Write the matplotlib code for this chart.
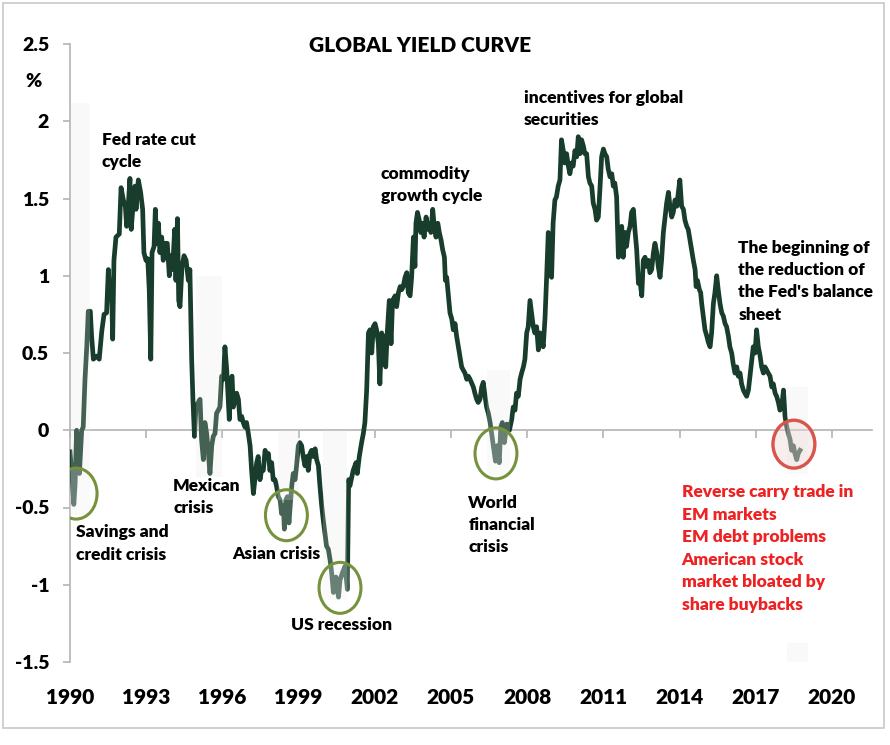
import matplotlib
matplotlib.use("Agg")
import matplotlib.pyplot as plt
from matplotlib.patches import Ellipse, Rectangle

# datos (anio, spread en %)
anios = [
    1990.00, 1990.08, 1990.15, 1990.20, 1990.26, 1990.33, 1990.37, 1990.46, 1990.52, 1990.59,
    1990.66, 1990.72, 1990.80, 1990.85, 1990.92, 1991.05, 1991.15, 1991.25, 1991.34, 1991.44,
    1991.51, 1991.57, 1991.64, 1991.68, 1991.73, 1991.81, 1991.94, 1992.01, 1992.10, 1992.18,
    1992.23, 1992.30, 1992.36, 1992.41, 1992.49, 1992.56, 1992.60, 1992.69, 1992.78, 1992.86,
    1992.91, 1992.99, 1993.06, 1993.12, 1993.18, 1993.23, 1993.31, 1993.36, 1993.41, 1993.48,
    1993.54, 1993.61, 1993.67, 1993.75, 1993.83, 1993.91, 1993.98, 1994.04, 1994.12, 1994.17,
    1994.23, 1994.28, 1994.33, 1994.41, 1994.49, 1994.57, 1994.66, 1994.72, 1994.79, 1994.84,
    1994.90, 1994.96, 1995.05, 1995.12, 1995.18, 1995.25, 1995.31, 1995.38, 1995.44, 1995.51,
    1995.58, 1995.64, 1995.71, 1995.77, 1995.84, 1995.90, 1995.97, 1996.04, 1996.10, 1996.17,
    1996.27, 1996.33, 1996.38, 1996.43, 1996.50, 1996.56, 1996.63, 1996.69, 1996.76, 1996.82,
    1996.89, 1996.95, 1997.02, 1997.09, 1997.15, 1997.22, 1997.28, 1997.35, 1997.41, 1997.48,
    1997.54, 1997.61, 1997.68, 1997.74, 1997.81, 1997.87, 1997.94, 1998.00, 1998.07, 1998.13,
    1998.20, 1998.27, 1998.33, 1998.40, 1998.44, 1998.50, 1998.56, 1998.62, 1998.69, 1998.73,
    1998.79, 1998.86, 1998.92, 1998.99, 1999.05, 1999.12, 1999.18, 1999.25, 1999.32, 1999.38,
    1999.45, 1999.51, 1999.58, 1999.65, 1999.71, 1999.78, 1999.84, 1999.91, 1999.97, 2000.04,
    2000.10, 2000.17, 2000.24, 2000.30, 2000.37, 2000.47, 2000.57, 2000.63, 2000.73, 2000.83,
    2000.92, 2000.97, 2001.02, 2001.15, 2001.26, 2001.31, 2001.39, 2001.48, 2001.55, 2001.61,
    2001.68, 2001.75, 2001.81, 2001.88, 2001.94, 2002.01, 2002.07, 2002.14, 2002.20, 2002.27,
    2002.33, 2002.38, 2002.43, 2002.49, 2002.57, 2002.64, 2002.70, 2002.80, 2002.86, 2002.93,
    2003.00, 2003.06, 2003.12, 2003.19, 2003.26, 2003.32, 2003.39, 2003.45, 2003.52, 2003.58,
    2003.62, 2003.68, 2003.75, 2003.81, 2003.89, 2003.94, 2004.02, 2004.08, 2004.15, 2004.21,
    2004.28, 2004.34, 2004.41, 2004.48, 2004.54, 2004.61, 2004.67, 2004.74, 2004.78, 2004.83,
    2004.90, 2004.96, 2005.03, 2005.09, 2005.16, 2005.22, 2005.29, 2005.35, 2005.42, 2005.48,
    2005.55, 2005.62, 2005.68, 2005.75, 2005.88, 2005.94, 2006.01, 2006.07, 2006.14, 2006.21,
    2006.27, 2006.34, 2006.40, 2006.47, 2006.54, 2006.60, 2006.67, 2006.75, 2006.82, 2006.90,
    2006.96, 2007.02, 2007.10, 2007.20, 2007.30, 2007.39, 2007.45, 2007.52, 2007.58, 2007.65,
    2007.72, 2007.78, 2007.85, 2007.91, 2007.98, 2008.04, 2008.11, 2008.17, 2008.24, 2008.30,
    2008.37, 2008.44, 2008.50, 2008.56, 2008.63, 2008.70, 2008.76, 2008.83, 2008.89, 2008.96,
    2009.02, 2009.09, 2009.15, 2009.22, 2009.29, 2009.35, 2009.42, 2009.48, 2009.55, 2009.62,
    2009.68, 2009.75, 2009.81, 2009.88, 2009.95, 2010.01, 2010.08, 2010.14, 2010.21, 2010.27,
    2010.34, 2010.41, 2010.47, 2010.54, 2010.60, 2010.67, 2010.73, 2010.80, 2010.87, 2010.93,
    2011.00, 2011.06, 2011.13, 2011.19, 2011.26, 2011.33, 2011.39, 2011.45, 2011.52, 2011.59,
    2011.65, 2011.72, 2011.78, 2011.85, 2011.91, 2011.98, 2012.05, 2012.11, 2012.18, 2012.24,
    2012.31, 2012.38, 2012.44, 2012.51, 2012.57, 2012.64, 2012.70, 2012.77, 2012.83, 2012.90,
    2012.97, 2013.03, 2013.10, 2013.16, 2013.23, 2013.29, 2013.36, 2013.43, 2013.49, 2013.56,
    2013.62, 2013.69, 2013.75, 2013.82, 2013.89, 2013.95, 2014.01, 2014.08, 2014.15, 2014.21,
    2014.28, 2014.34, 2014.41, 2014.47, 2014.54, 2014.61, 2014.65, 2014.70, 2014.78, 2014.83,
    2014.87, 2014.93, 2015.00, 2015.07, 2015.13, 2015.20, 2015.26, 2015.33, 2015.39, 2015.46,
    2015.52, 2015.59, 2015.66, 2015.72, 2015.79, 2015.85, 2015.92, 2015.98, 2016.05, 2016.11,
    2016.18, 2016.25, 2016.31, 2016.38, 2016.44, 2016.51, 2016.57, 2016.64, 2016.71, 2016.77,
    2016.84, 2016.90, 2016.97, 2017.03, 2017.10, 2017.17, 2017.23, 2017.30, 2017.36, 2017.43,
    2017.49, 2017.56, 2017.63, 2017.69, 2017.76, 2017.82, 2017.89, 2017.95, 2018.02, 2018.09,
    2018.15, 2018.22, 2018.28, 2018.35, 2018.41, 2018.48, 2018.54, 2018.61, 2018.67, 2018.74,
]
spread = [
    -0.14, -0.30, -0.48, -0.35, 0.00, -0.13, -0.28, 0.00, 0.02, 0.33,
    0.54, 0.77, 0.77, 0.61, 0.46, 0.48, 0.46, 0.64, 0.75, 0.76,
    1.04, 0.87, 0.89, 0.59, 1.10, 1.25, 1.27, 1.57, 1.49, 1.45,
    1.32, 1.47, 1.63, 1.30, 1.47, 1.58, 1.43, 1.62, 1.54, 1.43,
    1.15, 1.10, 1.11, 0.91, 0.46, 1.15, 1.19, 1.43, 1.21, 1.34,
    1.15, 1.25, 1.10, 1.21, 1.21, 1.00, 1.13, 1.04, 1.30, 0.97,
    1.37, 0.84, 0.80, 1.06, 1.13, 1.10, 0.97, 1.04, 0.46, 0.20,
    -0.04, 0.15, 0.18, 0.20, -0.06, -0.19, 0.05, -0.02, -0.13, -0.28,
    -0.10, -0.04, -0.02, 0.11, 0.13, 0.15, 0.35, 0.33, 0.54, 0.39,
    0.07, 0.33, 0.35, 0.15, 0.20, 0.24, 0.20, 0.07, 0.09, 0.05,
    0.02, 0.05, -0.02, -0.10, -0.26, -0.41, -0.32, -0.21, -0.17, -0.32,
    -0.26, -0.26, -0.13, -0.17, -0.15, -0.26, -0.21, -0.32, -0.32, -0.36,
    -0.43, -0.45, -0.54, -0.49, -0.64, -0.45, -0.43, -0.60, -0.45, -0.36,
    -0.28, -0.32, -0.23, -0.10, -0.08, -0.10, -0.17, -0.23, -0.17, -0.26,
    -0.15, -0.13, -0.17, -0.12, -0.19, -0.23, -0.36, -0.49, -0.58, -0.67,
    -0.75, -0.77, -0.84, -0.92, -1.05, -0.95, -1.08, -0.97, -0.92, -0.88,
    -1.03, -0.32, -0.36, -0.26, -0.21, -0.28, -0.17, -0.08, -0.02, 0.05,
    0.26, 0.63, 0.65, 0.50, 0.67, 0.69, 0.65, 0.56, 0.30, 0.63,
    0.43, 0.61, 0.41, 0.63, 0.84, 0.56, 0.84, 0.87, 0.80, 0.89,
    0.93, 0.91, 0.93, 0.99, 1.02, 0.89, 0.87, 0.99, 1.25, 1.06,
    1.34, 1.41, 1.36, 1.28, 1.34, 1.25, 1.38, 1.30, 1.34, 1.28,
    1.43, 1.32, 1.25, 1.34, 1.28, 1.23, 1.17, 1.12, 0.97, 0.99,
    0.87, 0.76, 0.72, 0.65, 0.69, 0.61, 0.54, 0.48, 0.41, 0.39,
    0.37, 0.33, 0.35, 0.33, 0.28, 0.24, 0.20, 0.18, 0.20, 0.28,
    0.31, 0.22, 0.15, 0.11, 0.05, -0.02, -0.10, -0.20, -0.10, -0.21,
    0.02, 0.05, -0.08, 0.04, 0.00, 0.07, 0.15, 0.13, 0.24, 0.22,
    0.33, 0.37, 0.41, 0.46, 0.63, 0.67, 0.84, 0.76, 0.67, 0.63,
    0.67, 0.52, 0.63, 0.61, 0.54, 0.72, 0.97, 1.28, 1.02, 0.99,
    1.34, 1.49, 1.51, 1.58, 1.62, 1.88, 1.81, 1.73, 1.79, 1.71,
    1.66, 1.73, 1.71, 1.81, 1.77, 1.90, 1.79, 1.88, 1.84, 1.79,
    1.79, 1.64, 1.60, 1.58, 1.47, 1.43, 1.36, 1.38, 1.58, 1.77,
    1.82, 1.79, 1.77, 1.69, 1.64, 1.66, 1.58, 1.60, 1.51, 1.12,
    1.15, 1.32, 1.12, 1.28, 1.19, 1.28, 1.32, 1.41, 1.43, 1.30,
    1.17, 0.95, 0.97, 0.87, 1.10, 1.12, 1.06, 1.10, 1.02, 1.04,
    1.15, 1.21, 1.15, 1.06, 0.99, 1.10, 1.28, 1.38, 1.47, 1.54,
    1.45, 1.38, 1.41, 1.49, 1.45, 1.54, 1.62, 1.45, 1.43, 1.36,
    1.32, 1.30, 1.23, 1.17, 1.10, 1.04, 0.93, 0.97, 0.91, 0.89,
    0.82, 0.74, 0.65, 0.61, 0.57, 0.54, 0.63, 0.82, 0.89, 1.00,
    0.91, 0.82, 0.76, 0.74, 0.69, 0.67, 0.61, 0.54, 0.50, 0.43,
    0.37, 0.41, 0.35, 0.37, 0.30, 0.26, 0.24, 0.22, 0.26, 0.35,
    0.46, 0.54, 0.50, 0.65, 0.54, 0.48, 0.41, 0.37, 0.41, 0.39,
    0.37, 0.35, 0.28, 0.30, 0.24, 0.22, 0.18, 0.13, 0.15, 0.26,
    0.09, 0.02, -0.02, -0.06, -0.13, -0.10, -0.15, -0.19, -0.15, -0.13,
]

x_ticks = [1990, 1993, 1996, 1999, 2002, 2005, 2008, 2011, 2014, 2017, 2020]
y_ticks = [-1.5, -1, -0.5, 0, 0.5, 1, 1.5, 2, 2.5]

# franjas grises (inicio, fin, abajo, arriba)
franjas = [
    (1990.05, 1990.80, -0.55, 2.12),
    (1994.95, 1996.00, -0.30, 1.00),
    (1998.20, 1999.00, -0.45, 0.00),
    (1999.96, 2000.90, -1.10, 0.00),
    (2006.40, 2007.32, -0.30, 0.39),
    (2018.23, 2019.06, -0.28, 0.28),
    (2018.23, 2019.06, -1.50, -1.38),
]

# circulos de crisis (anio, valor)
crisis_anio = [1990.24, 1998.52, 2000.63, 2006.77]
crisis_valor = [-0.41, -0.55, -1.02, -0.15]
alerta = (2018.50, -0.09)

# notas: (texto, anio, valor)
notas = [
    ("Fed rate cut\ncycle", 1991.25, 1.93),
    ("Savings and\ncredit crisis", 1990.24, -0.61),
    ("Mexican\ncrisis", 1994.06, -0.31),
    ("Asian crisis", 1996.37, -0.75),
    ("US recession", 1998.69, -1.21),
    ("World\nfinancial\ncrisis", 2005.68, -0.42),
    ("commodity\ngrowth cycle", 2002.23, 1.71),
    ("incentives for global\nsecurities", 2007.87, 2.20),
    ("The beginning of\nthe reduction of\nthe Fed's balance\nsheet", 2016.31, 1.23),
]
nota_roja = ("Reverse carry trade in\nEM markets\nEM debt problems\nAmerican stock\n"
             "market bloated by\nshare buybacks", 2014.08, -0.35)

plt.rcParams['font.family'] = ['Lato', 'DejaVu Sans']

gris = '#b4b4b4'
verde = '#183d2c'
peso = 'heavy'

fig = plt.figure(figsize=(8.9, 7.45), dpi=100)
fig.patches.append(Rectangle((0.003, 0.023), 0.99, 0.973, transform=fig.transFigure,
                             fill=False, edgecolor='#c8c8c8', linewidth=1.2))
ax = fig.add_axes([70 / 890, 1 - 662 / 745, 802 / 890, 618 / 745])

ax.plot(anios, spread, color=verde, linewidth=3.4, solid_joinstyle='round', zorder=3)

for x0, x1, lo, hi in franjas:
    ax.fill_between([x0, x1], lo, hi, color='#e4e4e4', alpha=0.22, linewidth=0, zorder=4)

for xa, ya in zip(crisis_anio, crisis_valor):
    ax.add_patch(Ellipse((xa, ya), 1.65, 0.33, facecolor=(1, 1, 1, 0.2),
                         edgecolor='#76923c', linewidth=2.2, zorder=5))
ax.add_patch(Ellipse(alerta, 1.65, 0.31, facecolor=(0.93, 0.82, 0.82, 0.35),
                     edgecolor='#d9544a', linewidth=2.4, zorder=5))

for texto, xa, ya in notas:
    ax.text(xa, ya, texto, fontsize=12.5, fontweight=peso, color='black',
            ha='left', va='top', linespacing=1.47, zorder=6)
ax.text(nota_roja[1], nota_roja[2], nota_roja[0], fontsize=12.5, fontweight=peso,
        color='#ee2222', ha='left', va='top', linespacing=1.5, zorder=6)

ax.text(0.436, 0.998, "GLOBAL YIELD CURVE", transform=ax.transAxes, fontsize=15,
        fontweight=peso, ha='center', va='center')
ax.text(-0.045, 0.94, "%", transform=ax.transAxes, fontsize=14, fontweight=peso,
        ha='center', va='center')

ax.set_xlim(1990, 1990 + 802 / 25.4)
ax.set_ylim(-1.5, 2.5)
ax.set_yticks(y_ticks)
ax.set_yticklabels(['%g' % v for v in y_ticks], fontsize=14, fontweight=peso)
ax.set_xticks(x_ticks)
ax.set_xticklabels([str(v) for v in x_ticks], fontsize=15, fontweight=peso)
ax.tick_params(axis='x', length=0, pad=19)
ax.tick_params(axis='y', length=5, width=1.2, color=gris, pad=10)
for lado in ['top', 'right', 'bottom']:
    ax.spines[lado].set_visible(False)
ax.spines['left'].set_color(gris)
ax.spines['left'].set_linewidth(1.2)

# linea del cero con sus marcas
cero = (0 - (-1.5)) / (2.5 - (-1.5))
sec = ax.secondary_xaxis(cero)
sec.set_xticks(x_ticks)
sec.tick_params(axis='x', direction='out', length=6, width=1.2, color=gris,
                labelbottom=False, labeltop=False)
for lado in sec.spines:
    sec.spines[lado].set_color(gris)
    sec.spines[lado].set_linewidth(1.2)

fig.savefig("out.png", dpi=100)
